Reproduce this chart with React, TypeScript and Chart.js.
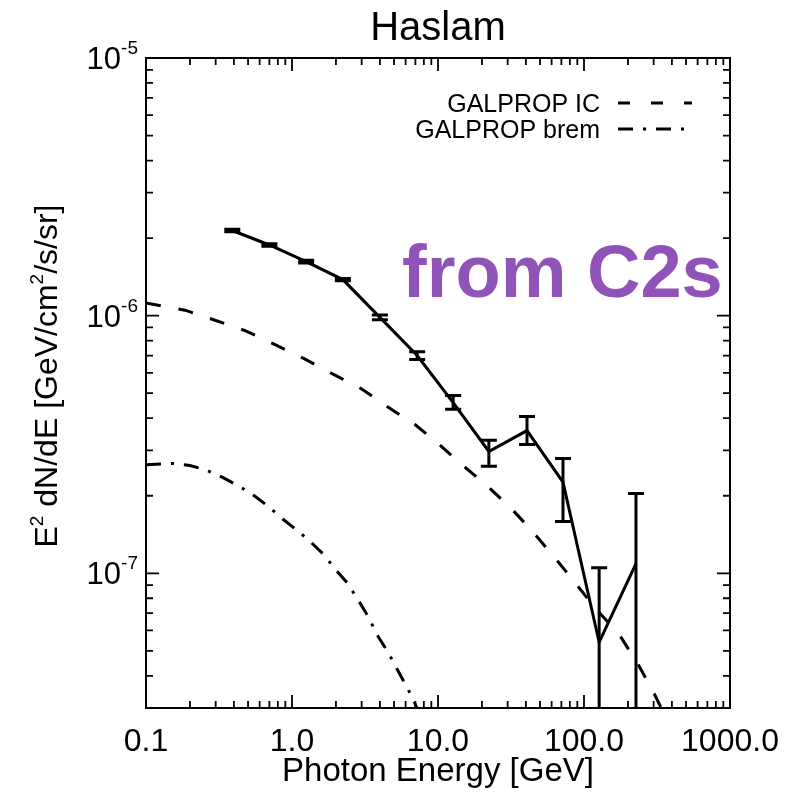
import React, { useEffect, useRef } from "react";
import { Chart, registerables } from "chart.js";

Chart.register(...registerables);

// ---- Data ----
const titleText = "Haslam";
const xTitle = "Photon Energy [GeV]";
const xTickValues = [0.1, 1, 10, 100, 1000];
const xTickLabels = ["0.1", "1.0", "10.0", "100.0", "1000.0"];
const yTickValues = [1e-7, 1e-6, 1e-5];
const yTickExponents = ["-7", "-6", "-5"];

// Data points (C2s) with error bars
const energy = [0.39, 0.7, 1.25, 2.23, 4.0, 7.2, 12.7, 22.3, 40.7, 71.8, 127, 227];
const flux = [2.14e-6, 1.88e-6, 1.62e-6, 1.38e-6, 9.85e-7, 7.0e-7, 4.6e-7, 2.97e-7, 3.58e-7, 2.26e-7, 5.4e-8, 1.09e-7];
const fluxHi = [2.165e-6, 1.9e-6, 1.64e-6, 1.395e-6, 1.005e-6, 7.25e-7, 4.9e-7, 3.28e-7, 4.06e-7, 2.79e-7, 1.05e-7, 2.04e-7];
const fluxLo = [2.115e-6, 1.86e-6, 1.6e-6, 1.365e-6, 9.65e-7, 6.75e-7, 4.33e-7, 2.6e-7, 3.16e-7, 1.59e-7, 1e-8, 1e-8];

// GALPROP IC model (dashed)
const icEnergy = [0.1, 0.185, 0.297, 0.477, 0.766, 1.21, 1.94, 2.97, 4.48, 6.95, 10.2, 14.8, 22.0, 31.6, 44.1, 62.3, 85.5, 121, 174, 234, 292, 359];
const icFlux = [1.12e-6, 1.05e-6, 9.6e-7, 8.75e-7, 7.72e-7, 6.81e-7, 5.9e-7, 5.21e-7, 4.44e-7, 3.78e-7, 3.16e-7, 2.62e-7, 2.17e-7, 1.79e-7, 1.46e-7, 1.16e-7, 9.3e-8, 7.25e-8, 5.8e-8, 4.44e-8, 3.55e-8, 2.8e-8];

// GALPROP bremsstrahlung model (dash-dot)
const bremEnergy = [0.1, 0.153, 0.2, 0.262, 0.337, 0.44, 0.558, 0.686, 0.868, 1.08, 1.33, 1.63, 2.03, 2.38, 2.83, 3.27, 3.88, 4.55, 5.24, 6.13, 6.75, 7.53];
const bremFlux = [2.64e-7, 2.67e-7, 2.62e-7, 2.51e-7, 2.35e-7, 2.17e-7, 1.99e-7, 1.82e-7, 1.62e-7, 1.47e-7, 1.33e-7, 1.19e-7, 1.02e-7, 9.2e-8, 7.9e-8, 6.9e-8, 5.7e-8, 4.94e-8, 4.25e-8, 3.61e-8, 3.25e-8, 2.8e-8];

const legendLabels = ["GALPROP IC", "GALPROP brem"];
const annotationText = "from C2s";

const FONT = "'Liberation Sans', Arial, Helvetica, sans-serif";

function drawSegments(ctx: CanvasRenderingContext2D, segs: { t: string; sup?: boolean }[], x: number, y: number, size: number, supSize: number) {
  // draws centered horizontally at x, baseline y
  let total = 0;
  for (const s of segs) {
    ctx.font = `${s.sup ? supSize : size}px ${FONT}`;
    total += ctx.measureText(s.t).width;
  }
  let cx = x - total / 2;
  ctx.textAlign = "left";
  ctx.textBaseline = "alphabetic";
  for (const s of segs) {
    ctx.font = `${s.sup ? supSize : size}px ${FONT}`;
    ctx.fillText(s.t, cx, s.sup ? y - 14 : y);
    cx += ctx.measureText(s.t).width;
  }
}

export default function App() {
  const ref = useRef<HTMLCanvasElement>(null);

  useEffect(() => {
    const canvas = ref.current;
    if (!canvas) return;

    const decor = {
      id: "idlDecor",
      afterDatasetsDraw(chart: any) {
        const ctx: CanvasRenderingContext2D = chart.ctx;
        const xs = chart.scales.x;
        const ys = chart.scales.y;
        const { left, right, top, bottom } = chart.chartArea;
        ctx.save();
        ctx.beginPath();
        ctx.rect(left, top, right - left, bottom - top);
        ctx.clip();
        ctx.strokeStyle = "#000";
        ctx.lineWidth = 3;
        ctx.lineCap = "butt";
        for (let i = 0; i < energy.length; i++) {
          const px = xs.getPixelForValue(energy[i]);
          const ph = ys.getPixelForValue(fluxHi[i]);
          const pl = ys.getPixelForValue(fluxLo[i]);
          ctx.beginPath();
          ctx.moveTo(px, ph);
          ctx.lineTo(px, pl);
          ctx.moveTo(px - 8, ph);
          ctx.lineTo(px + 8, ph);
          ctx.moveTo(px - 8, pl);
          ctx.lineTo(px + 8, pl);
          ctx.stroke();
        }
        ctx.restore();
      },
      afterDraw(chart: any) {
        const ctx: CanvasRenderingContext2D = chart.ctx;
        const xs = chart.scales.x;
        const ys = chart.scales.y;
        const { left, right, top, bottom } = chart.chartArea;
        ctx.save();
        ctx.strokeStyle = "#000";
        ctx.fillStyle = "#000";
        ctx.lineWidth = 2;
        ctx.strokeRect(left, top, right - left, bottom - top);

        // x ticks (inward, top and bottom)
        ctx.lineWidth = 1.8;
        ctx.beginPath();
        for (let d = -1; d <= 3; d++) {
          for (let k = 1; k <= 9; k++) {
            const v = k * Math.pow(10, d);
            if (v < 0.1 * 0.999 || v > 1000 * 1.001) continue;
            const px = xs.getPixelForValue(v);
            const len = k === 1 ? 13 : 7;
            ctx.moveTo(px, bottom);
            ctx.lineTo(px, bottom - len);
            ctx.moveTo(px, top);
            ctx.lineTo(px, top + len);
          }
        }
        // y ticks (inward, left and right)
        for (let d = -8; d <= -5; d++) {
          for (let k = 1; k <= 9; k++) {
            const v = k * Math.pow(10, d);
            if (v <= 3e-8 * 1.001 || v > 1e-5 * 1.001) continue;
            const py = ys.getPixelForValue(v);
            const len = k === 1 ? 13 : 7;
            ctx.moveTo(left, py);
            ctx.lineTo(left + len, py);
            ctx.moveTo(right, py);
            ctx.lineTo(right - len, py);
          }
        }
        ctx.stroke();

        // x tick labels
        ctx.font = `32px ${FONT}`;
        ctx.textAlign = "center";
        ctx.textBaseline = "alphabetic";
        xTickValues.forEach((v, i) => {
          ctx.fillText(xTickLabels[i], xs.getPixelForValue(v), 751);
        });

        // y tick labels 10^n
        yTickValues.forEach((v, i) => {
          const py = ys.getPixelForValue(v);
          ctx.font = `19px ${FONT}`;
          const ew = ctx.measureText(yTickExponents[i]).width;
          ctx.textAlign = "right";
          ctx.fillText(yTickExponents[i], left - 8, py - 4);
          ctx.font = `31px ${FONT}`;
          ctx.fillText("10", left - 8 - ew, py + 11);
        });

        // x title
        ctx.font = `33px ${FONT}`;
        ctx.textAlign = "center";
        ctx.fillText(xTitle, (left + right) / 2, 781);

        // y title (rotated)
        ctx.save();
        ctx.translate(57, 376);
        ctx.rotate(-Math.PI / 2);
        drawSegments(
          ctx,
          [
            { t: "E" },
            { t: "2", sup: true },
            { t: " dN/dE [GeV/cm" },
            { t: "2", sup: true },
            { t: "/s/sr]" },
          ],
          0,
          0,
          32,
          19
        );
        ctx.restore();

        // title
        ctx.font = `40px ${FONT}`;
        ctx.textAlign = "center";
        ctx.fillText(titleText, (left + right) / 2, 40);

        // legend
        ctx.font = `25px ${FONT}`;
        ctx.textAlign = "right";
        ctx.fillText(legendLabels[0], 600, 112);
        ctx.fillText(legendLabels[1], 600, 138);
        ctx.lineWidth = 3;
        ctx.lineCap = "butt";
        ctx.setLineDash([12, 21]);
        ctx.beginPath();
        ctx.moveTo(618, 103);
        ctx.lineTo(692, 103);
        ctx.stroke();
        ctx.setLineDash([15, 10, 3, 10]);
        ctx.beginPath();
        ctx.moveTo(618, 129);
        ctx.lineTo(685, 129);
        ctx.stroke();
        ctx.setLineDash([]);

        // annotation
        ctx.font = `bold 74px ${FONT}`;
        ctx.fillStyle = "#9053B8";
        ctx.textAlign = "left";
        ctx.fillText(annotationText, 402, 297);
        ctx.restore();
      },
    };

    const chart = new Chart(canvas, {
      type: "line",
      data: {
        datasets: [
          {
            label: "C2s",
            data: energy.map((e, i) => ({ x: e, y: flux[i] })),
            borderColor: "#000",
            borderWidth: 3,
            pointRadius: 0,
            tension: 0,
            fill: false,
          },
          {
            label: legendLabels[0],
            data: icEnergy.map((e, i) => ({ x: e, y: icFlux[i] })),
            borderColor: "#000",
            borderWidth: 3,
            borderDash: [15, 18],
            pointRadius: 0,
            tension: 0,
            fill: false,
          },
          {
            label: legendLabels[1],
            data: bremEnergy.map((e, i) => ({ x: e, y: bremFlux[i] })),
            borderColor: "#000",
            borderWidth: 3,
            borderDash: [15, 10, 3, 10],
            pointRadius: 0,
            tension: 0,
            fill: false,
          },
        ],
      },
      options: {
        responsive: false,
        maintainAspectRatio: false,
        animation: false,
        events: [],
        layout: { padding: { left: 0, top: 58, right: 58, bottom: 0 } },
        plugins: {
          legend: { display: false },
          title: { display: false },
          tooltip: { enabled: false },
        },
        scales: {
          x: {
            type: "logarithmic",
            min: 0.1,
            max: 1000,
            grid: { display: false, drawTicks: false },
            border: { display: false },
            ticks: { display: false },
            afterFit: (s: any) => {
              s.height = 88;
            },
          },
          y: {
            type: "logarithmic",
            min: 3e-8,
            max: 1e-5,
            grid: { display: false, drawTicks: false },
            border: { display: false },
            ticks: { display: false },
            afterFit: (s: any) => {
              s.width = 146;
            },
          },
        },
      },
      plugins: [decor],
    } as any);

    return () => chart.destroy();
  }, []);

  return (
    <div style={{ position: "absolute", left: 0, top: 0, width: 788, height: 796, background: "#fff" }}>
      <canvas ref={ref} width={788} height={796} style={{ display: "block", width: 788, height: 796 }} />
    </div>
  );
}
